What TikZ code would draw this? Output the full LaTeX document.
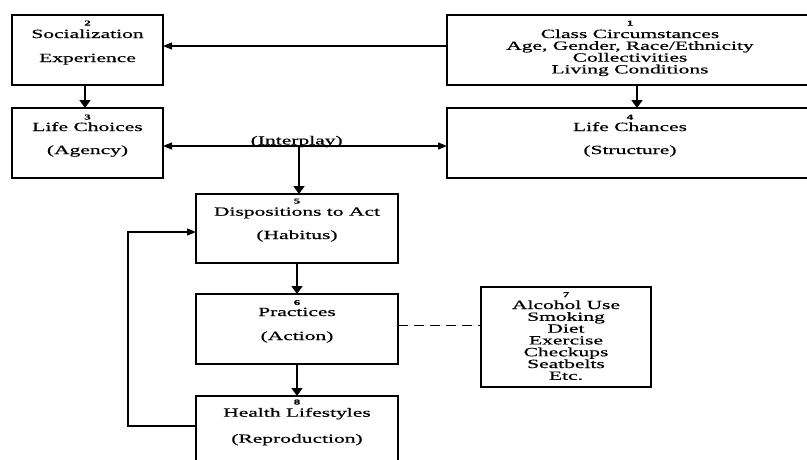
\documentclass[tikz,border=0pt]{standalone}
\usepackage{fontspec}
\setmainfont{Liberation Serif}[FakeStretch=1.72,FakeBold=0.6]
\usetikzlibrary{arrows.meta}
\begin{document}
\begin{tikzpicture}[x=1pt,y=-1pt,
 box/.style={draw,line width=1.3pt,inner sep=0pt,outer sep=0pt},
 num/.style={anchor=base,font=\fontsize{7.5}{8}\selectfont\bfseries,inner sep=0pt},
 lbl/.style={anchor=base,font=\fontsize{12.5}{12}\selectfont,inner sep=0pt},
 bigarrow/.style={line width=1.8pt,-{Triangle[length=8pt,width=11pt]}},
 smallarrow/.style={line width=1.1pt,-{Triangle[length=9pt,width=7pt]}},
 dashline/.style={line width=1pt,dash pattern=on 10pt off 6pt},
]
\useasboundingbox (0,0) rectangle (807,459);
\clip (0,0) rectangle (807,459);

% boxes
\node[box,minimum width=366pt,minimum height=70pt] (b1) at (630,50) {};
\node[box,minimum width=151pt,minimum height=70pt] (b2) at (87.5,50) {};
\node[box,minimum width=151pt,minimum height=70pt] (b3) at (87.5,143) {};
\node[box,minimum width=366pt,minimum height=70pt] (b4) at (630,143) {};
\node[box,minimum width=202pt,minimum height=69pt] (b5) at (297,228.5) {};
\node[box,minimum width=202pt,minimum height=70pt] (b6) at (297,329) {};
\node[box,minimum width=202pt,minimum height=70pt] (b8) at (297,431) {};
\node[box,minimum width=170pt,minimum height=100pt] (b7) at (566,337) {};

% box 1
\node[num] (n1) at (630,25.5) {1};
\node[lbl] (t1a) at (630,38) {Class Circumstances};
\node[lbl] (t1b) at (630,49.8) {Age, Gender, Race/Ethnicity};
\node[lbl] (t1c) at (630,61.6) {Collectivities};
\node[lbl] (t1d) at (630,73.4) {Living Conditions};
% box 2
\node[num] (n2) at (87.5,25.5) {2};
\node[lbl] (t2a) at (87.5,38) {Socialization};
\node[lbl] (t2b) at (87.5,62) {Experience};
% box 3
\node[num] (n3) at (87.5,119.5) {3};
\node[lbl] (t3a) at (87.5,131) {Life Choices};
\node[lbl] (t3b) at (87.5,154) {(Agency)};
% box 4
\node[num] (n4) at (630,119.5) {4};
\node[lbl] (t4a) at (630,131) {Life Chances};
\node[lbl] (t4b) at (630,154) {(Structure)};
% box 5
\node[num] (n5) at (297,203.5) {5};
\node[lbl] (t5a) at (297,215.7) {Dispositions to Act};
\node[lbl] (t5b) at (297,239) {(Habitus)};
% box 6
\node[num] (n6) at (297,305) {6};
\node[lbl] (t6a) at (297,316) {Practices};
\node[lbl] (t6b) at (297,340) {(Action)};
% box 8
\node[num] (n8) at (297,404.5) {8};
\node[lbl] (t8a) at (297,416.7) {Health Lifestyles};
\node[lbl] (t8b) at (297,442.7) {(Reproduction)};
% box 7
\node[num] (n7) at (566,297) {7};
\node[lbl] (t7a) at (566,309) {Alcohol Use};
\node[lbl] (t7b) at (566,320.8) {Smoking};
\node[lbl] (t7c) at (566,332.6) {Diet};
\node[lbl] (t7d) at (566,344.4) {Exercise};
\node[lbl] (t7e) at (566,356.2) {Checkups};
\node[lbl] (t7f) at (566,368) {Seatbelts};
\node[lbl] (t7g) at (566,379.8) {Etc.};

% connectors
\draw[smallarrow] ([yshift=4pt]b1.west) -- ([yshift=4pt]b2.east);
\draw[bigarrow] ([xshift=-2.5pt]b2.south) -- ([xshift=-2.5pt]b3.north);
\draw[bigarrow] ([xshift=7pt]b1.south) -- ([xshift=7pt]b4.north);
\draw[line width=1.1pt,{Triangle[length=9pt,width=7pt]}-{Triangle[length=9pt,width=7pt]}]
  ([yshift=-3pt]b3.east) -- ([yshift=-3pt]b4.west);
\coordinate (ip) at (299,146);
\node[lbl] (iplbl) at (296.7,144.5) {(Interplay)};
\draw[bigarrow] (ip) -- (ip |- b5.north);
\draw[bigarrow] (b5.south) -- (b6.north);
\draw[bigarrow] (b6.south) -- (b8.north);
\draw[dashline] ([yshift=4pt]b6.east) -- ([yshift=4pt]b6.east -| b7.west);
\draw[smallarrow] ([yshift=5pt]b8.west) -- ++(-68,0) |- ([yshift=-3.5pt]b5.west);
\end{tikzpicture}
\end{document}
